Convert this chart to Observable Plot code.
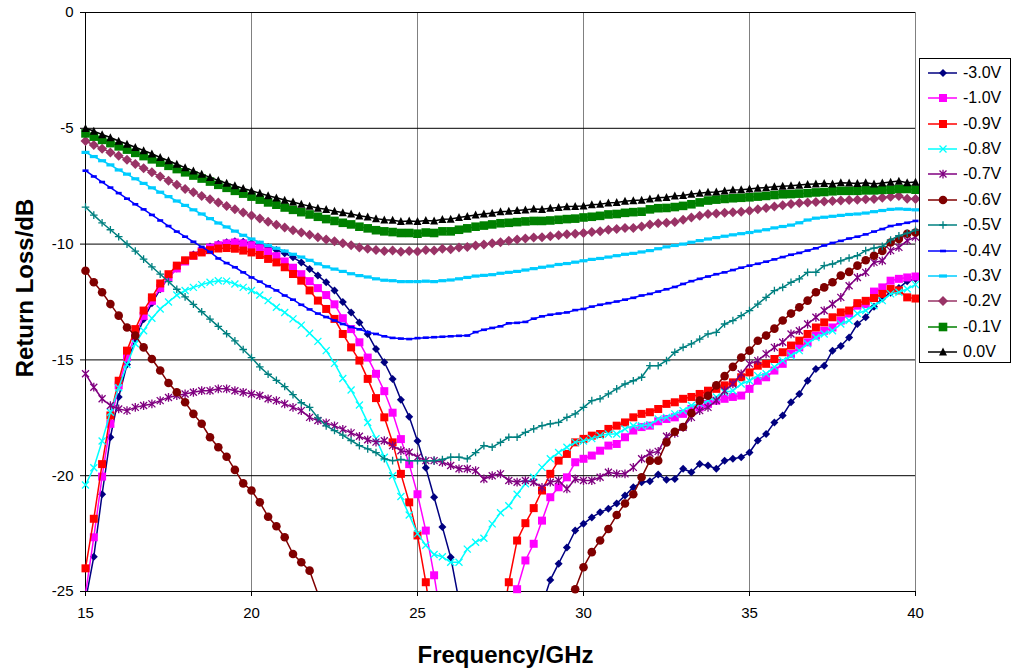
<!DOCTYPE html>
<html><head><meta charset="utf-8">
<script src="https://cdn.jsdelivr.net/npm/d3@7"></script>
<script src="https://cdn.jsdelivr.net/npm/@observablehq/plot@0.6"></script>
<style>
html,body{margin:0;padding:0;background:#fff;}
#wrap{position:relative;width:1011px;height:671px;overflow:hidden;font-family:'Liberation Sans',Arial,sans-serif;}
#legend{position:absolute;left:919px;top:58px;width:92px;height:305px;border:1px solid #000;background:#fff;box-sizing:border-box;}
.lrow{position:absolute;left:0;height:20px;width:92px;}
.lrow svg{position:absolute;left:0;top:0;}
.lrow span{position:absolute;left:43px;top:0;line-height:20px;font-size:16px;color:#000;white-space:nowrap;}
</style></head><body><div id="wrap"><div id="chart"></div><div id="legend"></div></div>
<script>
// ---- data ----
const freq = [15,15.25,15.5,15.75,16,16.25,16.5,16.75,17,17.25,17.5,17.75,18,18.25,18.5,18.75,19,19.25,19.5,19.75,20,20.25,20.5,20.75,21,21.25,21.5,21.75,22,22.25,22.5,22.75,23,23.25,23.5,23.75,24,24.25,24.5,24.75,25,25.25,25.5,25.75,26,26.25,26.5,26.75,27,27.25,27.5,27.75,28,28.25,28.5,28.75,29,29.25,29.5,29.75,30,30.25,30.5,30.75,31,31.25,31.5,31.75,32,32.25,32.5,32.75,33,33.25,33.5,33.75,34,34.25,34.5,34.75,35,35.25,35.5,35.75,36,36.25,36.5,36.75,37,37.25,37.5,37.75,38,38.25,38.5,38.75,39,39.25,39.5,39.75,40];
const xTicks = [15,20,25,30,35,40];
const yTicks = [0,-5,-10,-15,-20,-25];
const seriesNames = ["-3.0V","-1.0V","-0.9V","-0.8V","-0.7V","-0.6V","-0.5V","-0.4V","-0.3V","-0.2V","-0.1V","0.0V"];

const v30 = [
-25.4,-23.5,-20.8,-18.34,
-16.6,-15.2,-14.1,-13.25,
-12.55,-11.95,-11.45,-11.05,
-10.72,-10.45,-10.25,-10.1,
-10.0,-9.92,-9.88,-9.9,
-9.95,-10.02,-10.14,-10.25,
-10.4,-10.57,-10.79,-11.07,
-11.36,-11.65,-12.0,-12.5,
-12.95,-13.38,-13.88,-14.53,
-15.1,-15.82,-16.72,-17.45,
-18.5,-19.66,-20.93,-22.22,
-23.52,-25.4,-26.6,-27.5,
-28.2,-28.7,-28.8,-28.5,
-27.8,-27.0,-26.3,-25.6,
-24.5,-23.8,-23.1,-22.37,
-22.08,-21.8,-21.58,-21.43,
-21.2,-20.86,-20.5,-20.28,
-20.24,-19.95,-20.18,-20.14,
-19.7,-19.85,-19.5,-19.56,
-19.7,-19.35,-19.27,-19.2,
-19.0,-18.48,-18.2,-17.7,
-17.4,-16.83,-16.47,-15.9,
-15.39,-15.25,-14.6,-14.4,
-14.03,-13.45,-13.16,-12.7,
-12.35,-12.1,-11.9,-11.6,
-11.5];
const v10 = [
-25.1,-22.66,-20.04,-17.76,
-16.1,-14.9,-13.9,-13.1,
-12.45,-11.9,-11.45,-11.05,
-10.75,-10.5,-10.3,-10.15,
-10.05,-9.97,-9.93,-9.97,
-10.05,-10.18,-10.32,-10.52,
-10.75,-11.02,-11.3,-11.6,
-11.9,-12.2,-12.6,-13.2,
-13.67,-14.24,-14.9,-15.6,
-16.35,-17.28,-18.42,-19.5,
-20.8,-22.37,-24.3,-26.5,
-28.5,-30.0,-31.0,-31.5,
-31.2,-30.2,-28.8,-26.8,
-24.9,-23.66,-22.94,-21.94,
-20.93,-20.5,-20.07,-19.42,
-19.27,-19.13,-18.92,-18.7,
-18.63,-18.34,-18.05,-17.9,
-17.84,-17.65,-17.55,-17.48,
-17.33,-17.12,-17.05,-16.9,
-16.76,-16.68,-16.6,-16.54,
-16.25,-15.9,-15.75,-15.46,
-15.17,-14.74,-14.46,-14.24,
-13.95,-13.74,-13.6,-13.3,
-13.0,-12.66,-12.59,-12.05,
-11.87,-11.58,-11.5,-11.44,
-11.4];
const v09 = [
-24.0,-21.86,-19.5,-17.4,
-15.9,-14.6,-13.67,-12.87,
-12.3,-11.7,-11.3,-10.93,
-10.7,-10.5,-10.36,-10.26,
-10.19,-10.17,-10.2,-10.28,
-10.36,-10.47,-10.64,-10.79,
-11.0,-11.29,-11.58,-12.0,
-12.44,-12.8,-13.23,-13.88,
-14.46,-15.03,-15.82,-16.65,
-17.48,-18.56,-19.92,-21.15,
-22.58,-24.6,-27.0,-29.0,
-30.2,-31.0,-31.2,-30.8,
-30.0,-28.8,-26.8,-24.6,
-22.8,-22.05,-21.4,-20.64,
-19.92,-19.35,-19.06,-18.56,
-18.41,-18.27,-18.2,-17.98,
-17.84,-17.7,-17.48,-17.33,
-17.26,-17.12,-16.9,-16.83,
-16.68,-16.6,-16.47,-16.33,
-16.25,-16.1,-15.97,-15.75,
-15.54,-15.25,-15.17,-14.96,
-14.67,-14.38,-14.17,-13.88,
-13.6,-13.38,-13.16,-12.95,
-12.87,-12.55,-12.45,-12.33,
-12.15,-11.94,-12.0,-12.3,
-12.35];
const v08 = [
-20.4,-19.66,-18.5,-17.26,
-16.2,-15.2,-14.3,-13.74,
-13.2,-12.8,-12.5,-12.2,
-12.0,-11.87,-11.75,-11.65,
-11.58,-11.6,-11.72,-11.87,
-12.0,-12.2,-12.44,-12.73,
-12.95,-13.23,-13.5,-13.85,
-14.2,-14.6,-15.15,-15.8,
-16.3,-16.95,-17.7,-18.4,
-19.2,-20.0,-20.9,-21.7,
-22.5,-23.0,-23.4,-23.5,
-23.74,-23.74,-23.17,-22.87,
-22.7,-22.08,-21.6,-21.3,
-20.8,-20.35,-20.07,-19.64,
-19.27,-19.0,-18.77,-18.56,
-18.5,-18.4,-18.27,-18.2,
-18.2,-17.98,-17.84,-17.84,
-17.8,-17.55,-17.48,-17.33,
-17.19,-16.97,-16.9,-16.76,
-16.6,-16.4,-16.33,-16.04,
-15.9,-15.68,-15.6,-15.3,
-15.03,-14.82,-14.6,-14.3,
-14.03,-13.88,-13.74,-13.45,
-13.3,-13.0,-12.87,-12.66,
-12.44,-12.15,-12.08,-11.94,
-11.75];
const v07 = [
-15.6,-16.18,-16.68,-16.97,
-17.12,-17.19,-17.05,-16.97,
-16.9,-16.76,-16.62,-16.54,
-16.47,-16.4,-16.33,-16.33,
-16.25,-16.25,-16.33,-16.4,
-16.47,-16.54,-16.68,-16.76,
-16.9,-17.05,-17.19,-17.48,
-17.62,-17.72,-17.85,-18.0,
-18.15,-18.3,-18.45,-18.55,
-18.49,-18.7,-18.92,-18.99,
-19.2,-19.35,-19.35,-19.42,
-19.56,-19.7,-19.7,-19.78,
-20.14,-20.0,-19.92,-20.21,
-20.28,-20.21,-20.28,-20.5,
-20.28,-20.21,-20.57,-20.14,
-20.21,-20.21,-20.07,-19.85,
-19.92,-19.92,-19.64,-19.27,
-19.03,-18.95,-18.3,-18.17,
-17.91,-17.48,-17.19,-17.05,
-16.76,-16.33,-16.04,-15.6,
-15.17,-15.03,-14.74,-14.46,
-14.24,-13.88,-13.74,-13.45,
-13.16,-12.87,-12.59,-12.3,
-11.8,-11.44,-11.22,-10.79,
-10.72,-10.28,-10.14,-9.85,
-9.7];
const v06 = [
-11.15,-11.65,-12.08,-12.59,
-13.09,-13.6,-13.95,-14.46,
-14.96,-15.46,-16.0,-16.4,
-16.83,-17.33,-17.76,-18.34,
-18.77,-19.18,-19.75,-20.33,
-20.64,-21.15,-21.77,-22.18,
-22.66,-23.38,-23.74,-24.1,
-25.1,-25.5,-26.3,-27.2,
-28.0,-28.8,-29.5,-30.2,
-30.8,-31.3,-31.8,-32.2,
-32.5,-32.8,-33.0,-33.1,
-33.2,-33.2,-33.1,-33.0,
-32.8,-32.5,-32.1,-31.6,
-31.0,-30.4,-29.8,-29.2,
-28.6,-28.0,-27.0,-24.9,
-23.95,-23.3,-22.8,-22.3,
-21.7,-21.2,-20.8,-20.07,
-19.35,-19.35,-18.56,-18.1,
-17.9,-17.3,-16.76,-16.55,
-16.1,-15.7,-15.3,-14.9,
-14.6,-14.17,-13.95,-13.65,
-13.3,-13.0,-12.73,-12.44,
-12.08,-11.87,-11.65,-11.36,
-11.2,-10.93,-10.7,-10.5,
-10.3,-9.93,-9.78,-9.55,
-9.5];
const v05 = [
-8.4,-8.75,-9.08,-9.38,
-9.68,-10.0,-10.3,-10.65,
-10.98,-11.3,-11.62,-11.95,
-12.28,-12.6,-12.92,-13.24,
-13.55,-13.87,-14.18,-14.55,
-14.9,-15.3,-15.62,-15.88,
-16.15,-16.5,-16.85,-17.05,
-17.5,-17.85,-18.05,-18.25,
-18.48,-18.7,-18.84,-19.0,
-19.27,-19.35,-19.3,-19.35,
-19.35,-19.35,-19.35,-19.3,
-19.2,-19.2,-19.27,-19.0,
-18.7,-18.77,-18.56,-18.34,
-18.34,-18.13,-17.98,-17.84,
-17.76,-17.7,-17.48,-17.33,
-17.05,-16.76,-16.68,-16.47,
-16.25,-16.04,-15.9,-15.75,
-15.25,-15.25,-15.03,-14.67,
-14.46,-14.31,-14.1,-13.88,
-13.81,-13.45,-13.3,-13.09,
-12.87,-12.59,-12.3,-12.01,
-11.87,-11.65,-11.5,-11.22,
-11.22,-10.93,-10.86,-10.72,
-10.6,-10.5,-10.28,-10.17,
-10.1,-9.82,-9.64,-9.53,
-9.4];
const v04 = [
-6.83,-7.08,-7.32,-7.56,
-7.8,-8.04,-8.28,-8.5,
-8.74,-8.98,-9.22,-9.46,
-9.68,-9.9,-10.12,-10.34,
-10.62,-10.82,-11.0,-11.22,
-11.44,-11.62,-11.82,-12.0,
-12.22,-12.4,-12.62,-12.82,
-13.0,-13.15,-13.3,-13.45,
-13.58,-13.68,-13.8,-13.88,
-13.98,-14.05,-14.08,-14.1,
-14.06,-14.04,-14.02,-14.0,
-13.98,-13.96,-13.95,-13.8,
-13.7,-13.62,-13.55,-13.42,
-13.4,-13.36,-13.22,-13.12,
-13.05,-13.0,-12.95,-12.85,
-12.8,-12.7,-12.62,-12.55,
-12.48,-12.4,-12.32,-12.22,
-12.15,-12.05,-11.95,-11.85,
-11.72,-11.6,-11.5,-11.4,
-11.3,-11.22,-11.12,-11.02,
-10.93,-10.85,-10.76,-10.66,
-10.56,-10.46,-10.38,-10.28,
-10.18,-10.06,-9.95,-9.86,
-9.76,-9.68,-9.58,-9.46,
-9.35,-9.22,-9.15,-9.08,
-9.0];
const v03 = [
-6.04,-6.22,-6.4,-6.58,
-6.8,-6.98,-7.18,-7.38,
-7.57,-7.76,-7.95,-8.14,
-8.33,-8.52,-8.7,-8.9,
-9.09,-9.26,-9.44,-9.62,
-9.78,-9.92,-10.06,-10.18,
-10.3,-10.44,-10.56,-10.7,
-10.85,-10.98,-11.08,-11.18,
-11.28,-11.36,-11.42,-11.5,
-11.56,-11.58,-11.62,-11.62,
-11.62,-11.6,-11.62,-11.58,
-11.55,-11.5,-11.44,-11.38,
-11.35,-11.32,-11.26,-11.22,
-11.18,-11.12,-11.06,-11.0,
-10.95,-10.88,-10.84,-10.78,
-10.72,-10.66,-10.62,-10.56,
-10.5,-10.44,-10.4,-10.34,
-10.28,-10.2,-10.12,-10.06,
-10.0,-9.92,-9.85,-9.78,
-9.72,-9.66,-9.6,-9.55,
-9.5,-9.44,-9.38,-9.3,
-9.24,-9.18,-9.08,-8.96,
-8.88,-8.84,-8.8,-8.76,
-8.72,-8.7,-8.66,-8.6,
-8.55,-8.5,-8.48,-8.5,
-8.52];
const v02 = [
-5.55,-5.72,-5.88,-6.04,
-6.18,-6.36,-6.54,-6.72,
-6.9,-7.08,-7.26,-7.44,
-7.62,-7.76,-7.92,-8.06,
-8.2,-8.35,-8.5,-8.64,
-8.77,-8.9,-9.04,-9.16,
-9.28,-9.4,-9.5,-9.6,
-9.7,-9.8,-9.88,-9.96,
-10.05,-10.15,-10.2,-10.26,
-10.3,-10.28,-10.33,-10.3,
-10.32,-10.26,-10.28,-10.2,
-10.22,-10.15,-10.12,-10.06,
-10.02,-9.96,-9.92,-9.85,
-9.8,-9.76,-9.72,-9.7,
-9.66,-9.62,-9.58,-9.55,
-9.52,-9.48,-9.44,-9.38,
-9.35,-9.3,-9.3,-9.24,
-9.15,-9.1,-9.08,-9.05,
-8.95,-8.85,-8.78,-8.7,
-8.68,-8.65,-8.62,-8.6,
-8.56,-8.5,-8.44,-8.38,
-8.32,-8.27,-8.22,-8.2,
-8.18,-8.16,-8.14,-8.12,
-8.1,-8.08,-8.06,-8.05,
-8.0,-7.96,-7.92,-8.04,
-8.05];
const v01 = [
-5.22,-5.36,-5.5,-5.64,
-5.78,-5.92,-6.06,-6.2,
-6.34,-6.48,-6.62,-6.76,
-6.9,-7.04,-7.17,-7.3,
-7.44,-7.57,-7.7,-7.82,
-7.95,-8.08,-8.2,-8.3,
-8.42,-8.52,-8.62,-8.72,
-8.82,-8.92,-9.0,-9.08,
-9.15,-9.25,-9.32,-9.4,
-9.45,-9.48,-9.52,-9.52,
-9.55,-9.5,-9.52,-9.45,
-9.45,-9.38,-9.32,-9.25,
-9.2,-9.15,-9.1,-9.08,
-9.05,-9.02,-9.0,-9.0,
-8.98,-8.95,-8.92,-8.9,
-8.85,-8.82,-8.78,-8.72,
-8.7,-8.65,-8.62,-8.6,
-8.5,-8.45,-8.44,-8.4,
-8.35,-8.28,-8.2,-8.12,
-8.08,-8.05,-8.02,-8.0,
-7.98,-7.95,-7.92,-7.88,
-7.85,-7.84,-7.82,-7.8,
-7.77,-7.75,-7.72,-7.7,
-7.7,-7.7,-7.68,-7.68,
-7.66,-7.65,-7.62,-7.62,
-7.65];
const v00 = [
-5.0,-5.12,-5.27,-5.4,
-5.55,-5.68,-5.82,-5.96,
-6.1,-6.26,-6.4,-6.55,
-6.7,-6.84,-6.98,-7.12,
-7.25,-7.37,-7.48,-7.6,
-7.7,-7.8,-7.91,-8.0,
-8.1,-8.18,-8.28,-8.36,
-8.45,-8.5,-8.58,-8.64,
-8.7,-8.78,-8.83,-8.9,
-8.95,-8.97,-9.02,-9.0,
-9.02,-8.98,-9.0,-8.93,
-8.92,-8.85,-8.8,-8.74,
-8.7,-8.66,-8.6,-8.58,
-8.55,-8.52,-8.48,-8.5,
-8.45,-8.42,-8.38,-8.37,
-8.35,-8.3,-8.28,-8.22,
-8.2,-8.15,-8.12,-8.1,
-8.05,-8.0,-7.98,-7.92,
-7.9,-7.84,-7.8,-7.76,
-7.75,-7.7,-7.66,-7.65,
-7.62,-7.58,-7.56,-7.52,
-7.5,-7.48,-7.45,-7.42,
-7.4,-7.38,-7.4,-7.35,
-7.36,-7.38,-7.35,-7.4,
-7.36,-7.32,-7.28,-7.35,
-7.32];
const seriesValues = [v30, v10, v09, v08, v07, v06, v05, v04, v03, v02, v01, v00];

// ---- symbols (style) ----
const symDiamond = h => ({draw(c){c.moveTo(0,-h);c.lineTo(h,0);c.lineTo(0,h);c.lineTo(-h,0);c.closePath();}});
const symSquare = h => ({draw(c){c.moveTo(-h,-h);c.lineTo(h,-h);c.lineTo(h,h);c.lineTo(-h,h);c.closePath();}});
const symCircle = h => ({draw(c){c.moveTo(h,0);c.arc(0,0,h,0,2*Math.PI);}});
const symTriangle = h => ({draw(c){c.moveTo(0,-h*1.1);c.lineTo(h,h*0.9);c.lineTo(-h,h*0.9);c.closePath();}});
const symTimes = h => ({draw(c){c.moveTo(-h,-h);c.lineTo(h,h);c.moveTo(h,-h);c.lineTo(-h,h);}});
const symAster = h => ({draw(c){c.moveTo(-h,-h);c.lineTo(h,h);c.moveTo(h,-h);c.lineTo(-h,h);c.moveTo(0,-h*1.25);c.lineTo(0,h*1.25);}});
const symPlus = h => ({draw(c){c.moveTo(-h,0);c.lineTo(h,0);c.moveTo(0,-h);c.lineTo(0,h);}});
const symDash = (w,hh) => ({draw(c){c.moveTo(-w,-hh);c.lineTo(w,-hh);c.lineTo(w,hh);c.lineTo(-w,hh);c.closePath();}});

const styles = {
  "-3.0V": {color:"#000080", sym: symDiamond(4), filled:true},
  "-1.0V": {color:"#FF00FF", sym: symSquare(4), filled:true},
  "-0.9V": {color:"#FF0000", sym: symSquare(4), filled:true},
  "-0.8V": {color:"#00FFFF", sym: symTimes(3.5), filled:false},
  "-0.7V": {color:"#800080", sym: symAster(3.5), filled:false},
  "-0.6V": {color:"#800000", sym: symCircle(4.3), filled:true},
  "-0.5V": {color:"#008080", sym: symPlus(3.8), filled:false},
  "-0.4V": {color:"#0000FF", sym: symDash(3,1.3), filled:true},
  "-0.3V": {color:"#00CCFF", sym: symDash(4,1.6), filled:true},
  "-0.2V": {color:"#993366", sym: symDiamond(5), filled:true},
  "-0.1V": {color:"#008000", sym: symSquare(4.3), filled:true},
  "0.0V":  {color:"#000000", sym: symTriangle(4.0), filled:true}
};

const marks = [
  Plot.gridX([20,25,30,35,40], {stroke:"#808080", strokeOpacity:1, strokeWidth:1}),
  Plot.gridY([0,-5,-10,-15,-20], {stroke:"#000", strokeOpacity:1, strokeWidth:1}),
  Plot.axisX(xTicks, {tickSize:5, tickPadding:11, tickFormat: d => String(d), label:null, fontSize:15}),
  Plot.axisY(yTicks, {tickSize:5, tickPadding:7, tickFormat: d => String(d), label:null, fontSize:15}),
  Plot.ruleX([15], {stroke:"#000"}),
  Plot.ruleY([-25], {stroke:"#000"})
];
seriesNames.forEach((name, k) => {
  const st = styles[name];
  const rows = freq.map((f, i) => ({f, v: seriesValues[k][i]}));
  marks.push(Plot.line(rows, {x:"f", y:"v", stroke: st.color, strokeWidth: 1.5, clip: true}));
  marks.push(Plot.dot(rows.filter(d => d.v >= -25 && d.v <= 0), {
    x:"f", y:"v", symbol: st.sym, r: 4,
    fill: st.filled ? st.color : "none",
    stroke: st.filled ? "none" : st.color,
    strokeWidth: st.filled ? 0 : 1.3
  }));
});
marks.push(Plot.text(["Frequency/GHz"], {text: d => d, frameAnchor:"bottom", textAnchor:"middle", lineAnchor:"middle", dx: 5, dy: 64, fontSize: 24, fontWeight:"bold", fill:"#000"}));
marks.push(Plot.text(["Return Loss/dB"], {text: d => d, frameAnchor:"left", textAnchor:"middle", lineAnchor:"middle", dx: -60, dy: -14, rotate: -90, fontSize: 24, fontWeight:"bold", fill:"#000"}));

const chart = Plot.plot({
  width: 1011, height: 671,
  marginLeft: 85, marginRight: 96, marginTop: 12, marginBottom: 80,
  x: {domain: [15, 40]},
  y: {domain: [-25, 0]},
  style: {fontFamily: "'Liberation Sans', Arial, sans-serif", fontSize: "15px", background: "#fff", color: "#000", overflow: "visible"},
  marks
});
document.getElementById("chart").appendChild(chart);

// ---- legend ----
const legend = d3.select("#legend");
seriesNames.forEach((name, k) => {
  const st = styles[name];
  const row = legend.append("div").attr("class", "lrow").style("top", (3.7 + 25.4 * k) + "px");
  const svg = row.append("svg").attr("width", 42).attr("height", 20);
  svg.append("line").attr("x1", 8).attr("x2", 37).attr("y1", 10).attr("y2", 10)
     .attr("stroke", st.color).attr("stroke-width", 1.5);
  const p = d3.path(); st.sym.draw(p);
  svg.append("path").attr("d", p.toString()).attr("transform", "translate(23,10)")
     .attr("fill", st.filled ? st.color : "none")
     .attr("stroke", st.filled ? "none" : st.color)
     .attr("stroke-width", st.filled ? 0 : 1.3);
  row.append("span").text(name);
});
</script></body></html>
